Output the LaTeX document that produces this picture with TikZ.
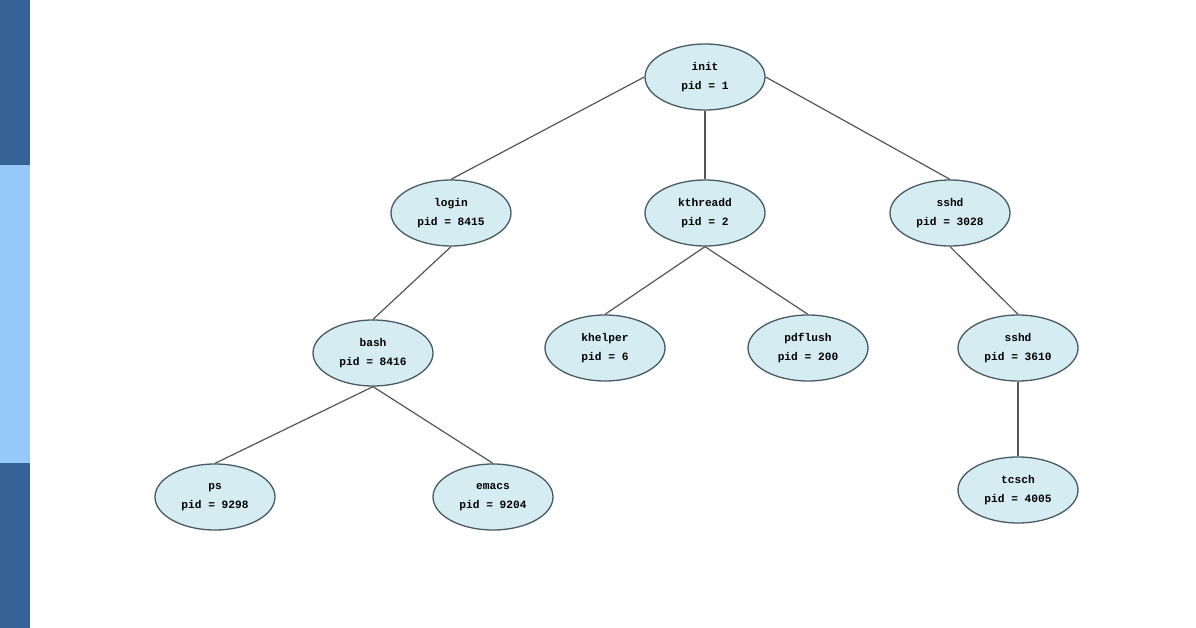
\documentclass[tikz,border=0pt]{standalone}
\usepackage{fontspec}
\setmonofont{Liberation Mono}
\usepackage{tikz}
\usetikzlibrary{positioning,shapes,shapes.geometric}
\definecolor{bardark}{RGB}{52,98,150}
\definecolor{barlight}{RGB}{150,200,250}
\definecolor{procfill}{RGB}{214,236,243}
\definecolor{procline}{RGB}{72,90,100}
\definecolor{treeline}{RGB}{85,85,85}
\tikzset{proc/.style={ellipse,draw=procline,fill=procfill,line width=1.3pt,
   minimum width=120pt,minimum height=66pt,inner sep=0pt,align=center,
   font=\ttfamily\bfseries\fontsize{11.2}{19}\selectfont}}

\begin{document}
\begin{tikzpicture}[x=1pt,y=-1pt]
   \useasboundingbox[fill=white] (0,0) rectangle (1196,628);
   \fill[bardark] (0,0) rectangle (30,165);
   \fill[barlight] (0,165) rectangle (30,463);
   \fill[bardark] (0,463) rectangle (30,628);
   \node[proc] (init) at (705,77) {init\\pid = 1};
   \node[proc] (login) at (451,213) {login\\pid = 8415};
   \node[proc] (kthreadd) at (705,213) {kthreadd\\pid = 2};
   \node[proc] (sshd) at (950,213) {sshd\\pid = 3028};
   \node[proc] (bash) at (373,353) {bash\\pid = 8416};
   \node[proc] (khelper) at (605,348) {khelper\\pid = 6};
   \node[proc] (pdflush) at (808,348) {pdflush\\pid = 200};
   \node[proc] (sshdb) at (1018,348) {sshd\\pid = 3610};
   \node[proc] (ps) at (215,497) {ps\\pid = 9298};
   \node[proc] (emacs) at (493,497) {emacs\\pid = 9204};
   \node[proc] (tcsch) at (1018,490) {tcsch\\pid = 4005};
   \path[draw=treeline,line width=1.2pt]
   (init.west) edge (login.north)
   (init.south) edge (kthreadd.north)
   (init.east) edge (sshd.north)
   (login.south) edge (bash.north)
   (kthreadd.south) edge (khelper.north)
   (kthreadd.south) edge (pdflush.north)
   (sshd.south) edge (sshdb.north)
   (bash.south) edge (ps.north)
   (bash.south) edge (emacs.north)
   (sshdb.south) edge (tcsch.north);
\end{tikzpicture}
\end{document}
